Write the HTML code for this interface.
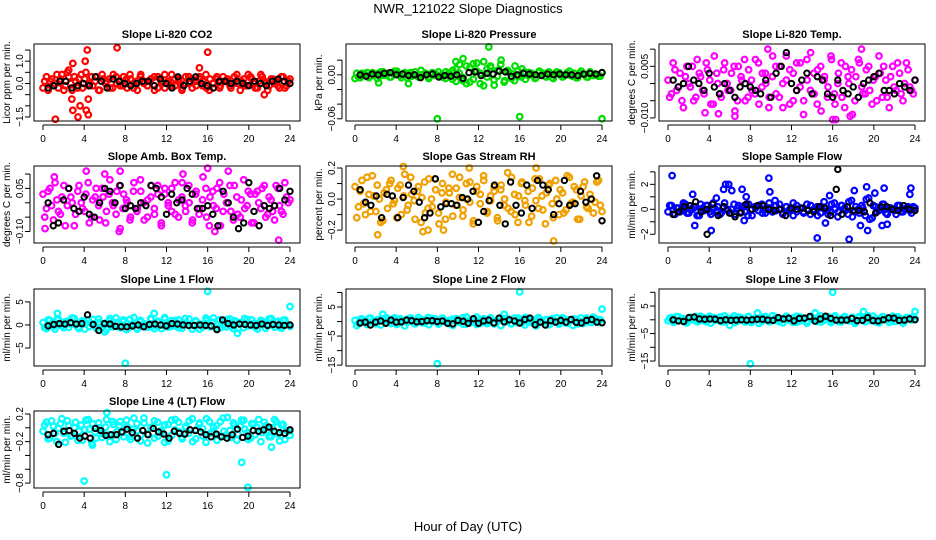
<!DOCTYPE html>
<html><head><meta charset="utf-8"><style>
html,body{margin:0;padding:0;background:#fff;}
svg{display:block;font-family:"Liberation Sans",sans-serif;}
</style></head><body>
<svg id="chart" width="936" height="540" viewBox="0 0 936 540" xmlns="http://www.w3.org/2000/svg">
<text x="468" y="13" text-anchor="middle" font-size="13">NWR_121022  Slope Diagnostics</text>
<text x="468" y="531" text-anchor="middle" font-size="13">Hour of Day (UTC)</text>
</svg>
<script>
// ---- data (values in per-panel units; see unit in panel config) ----
const co2Vals=[-2,3,1,-1,4,2,-3,5,0,3,-2,4,2,-1,3,1,-3,4,0,2,-2,3,1,-1,2,4,-2,1,3,0,-1,2,3,-2,1,4,0,-1,2,1,-2,3,0,2,-1,3,1,-2,2,0,3,-1,1,2,-2,3,0,1,-1,4,2,-2,1,3,0,-1,2,1,-2,3,-1,2];
const co2Vals2=[1,-3,2,0,-2,4,-1,3,-3,1,2,-2,5,0,-1,3,-3,2,1,-2,4,0,-1,3,-2,2,0,-3,4,1,-1,2,-3,3,0,-2,1,4,-1,2,-3,0,3,-2,1,2,-1,4,-3,0,2,-2,3,1,-1,0,4,-3,2,-1,3,0,-2,4,1,-3,2,0,-1,3,-2,1];
const co2Black=[-2,-1,1,1,-2,-1,0,-1,3,1,-2,2,1,0,-1,0,1,1,-1,2,0,-2,3,-1,1,3,0,-1,-2,1,1,0,1,0,-1,1,0,-1,1,2,1,0];
const co2OutX=[1.2,2.9,2.8,2.9,3.4,3.6,4.1,4.3,4.4,4.2,4.4,7.2,16.0,15.2,21.5,2.5];
const co2OutY=[-1.6,0.9,-0.7,-1.2,-1.5,-1.0,1.0,1.5,-1.4,-1.2,-0.7,1.6,1.4,0.7,-0.5,0.6];

const presVals=[-5,-3,2,0,-4,3,1,-2,4,0,-3,2,5,-1,1,-4,3,0,-2,6,1,-3,2,-1,4,0,-5,3,-6,8,2,-8,12,-10,15,5,-12,18,-3,10,-14,6,20,-8,4,-5,12,-2,8,-6,3,0,-4,5,2,-3,1,-5,4,0,-2,3,-1,2,-4,5,0,-3,2,1,-2,3];
const presVals2=[2,-4,0,3,-2,1,-5,4,-1,2,-3,5,0,-4,3,1,-2,4,-3,0,2,-5,3,1,-1,-3,4,0,6,-9,14,-4,-12,10,-6,16,2,-15,8,12,-7,-2,14,-10,6,2,-8,5,-3,4,-1,2,-5,3,0,-2,4,-4,1,3,-3,0,5,-2,-4,2,1,-3,4,-1,0,-2];
const presBlack=[0,-2,1,0,2,3,0,1,-1,0,-4,0,1,-3,-1,-2,0,-5,3,4,-1,2,1,5,4,-2,0,2,1,0,-1,1,0,1,0,0,-1,1,2,1,3];
const presOutX=[8,16,24,13,10.5,9.8,5.2,2.3];
const presOutY=[-0.06,-0.057,-0.06,0.038,0.022,0.018,-0.012,-0.011];

const tempVals=[1,-3,4,-1,-5,2,0,5,-4,3,-2,6,1,-6,3,-3,4,0,-2,5,-5,2,7,-4,1,-3,6,-1,3,-7,2,5,-4,0,8,-6,3,-2,6,-5,1,9,-3,4,-8,2,-1,7,-6,3,-4,5,0,-9,2,6,-3,4,-2,1,-5,3,5,-4,2,-1,6,-3,0,4,-2,1];
const tempVals2=[-4,6,-2,3,-7,5,-1,-5,7,2,-3,4,-6,8,0,-4,6,-2,3,-8,5,1,-5,4,-2,7,-6,3,0,-4,8,-3,5,-7,1,4,-5,6,-1,-9,7,-2,3,-6,5,1,-4,8,-3,0,6,-7,2,4,-5,7,-1,-3,5,-6,2,8,-4,1,-7,5,-2,3,-5,6,-1,-3];
const tempBlack=[1,-1,0,5,1,0,-2,3,-1,-3,0,-2,-4,-1,0,-1,-2,-3,1,-4,3,5,9,0,-2,1,3,-3,2,1,-3,-4,1,-2,-3,-1,-4,0,1,2,3,-2,-2,-3,0,-1,-2,1];
const tempOutX=[9.7,18.8,16.0,16.3,17.7,6.5,4.9,3.6];
const tempOutY=[0.01,0.01,-0.0105,-0.0105,-0.0095,-0.0095,-0.0088,-0.0085];

const ambVals=[3,-2,5,-6,1,-4,6,-1,2,-8,4,0,-3,7,-5,2,-1,5,-7,3,0,-4,6,-2,1,-6,4,-3,8,0,-5,2,-2,6,-7,3,-1,5,-4,1,7,-3,0,-6,4,-2,9,-5,2,-1,5,-8,3,0,-3,6,-4,1,-2,4,-7,3,0,5,-5,2,-3,6,-1,-4,2,1];
const ambVals2=[-5,4,-1,7,-3,2,-8,5,0,-4,6,-2,3,-7,1,5,-6,2,-3,8,-1,4,-9,3,0,-5,7,-2,4,-6,1,6,-4,3,-8,5,0,-3,7,-5,2,-1,6,-7,3,-4,1,5,-8,4,-2,7,-3,0,6,-6,2,-5,8,-1,3,-7,4,-2,6,-4,1,-6,5,-3,7,0];
const ambBlack=[0,-8,-7,1,5,-2,-3,2,-4,-5,0,5,4,0,6,-2,-1,-2,0,-1,6,5,2,-4,3,0,1,5,3,-2,-2,-1,-4,-8,4,0,-5,-9,-7,7,-3,-8,-1,-2,-1,5,1,4];
const ambOutX=[0.2,1.1,4.2,7.5,7.4,16.0,16.7,18.0,22.9,13.6,6.0];
const ambOutY=[-0.09,0.09,0.11,0.11,-0.1,0.12,-0.1,0.11,-0.13,0.1,0.1];

const rhVals=[8,-5,12,-10,3,15,-8,0,-14,6,10,-3,-12,9,2,-7,14,-1,5,-15,11,-6,0,13,-9,4,-13,7,16,-4,1,-11,10,-2,-16,8,3,12,-8,-1,5,-14,9,0,-6,14,-10,2,11,-4,-15,7,-1,13,-7,4,10,-12,0,6,-9,15,-3,8,-13,2,11,-6,0,-2,12,-8];
const rhVals2=[-12,5,-3,14,-8,2,9,-15,4,-6,12,-1,7,-10,16,-4,3,-13,8,1,-9,13,-5,6,-16,10,-2,4,-11,7,14,-7,0,11,-14,5,-3,15,-9,2,8,-12,6,-4,17,-8,3,-15,10,-1,5,-11,13,-6,2,-16,9,-3,12,-10,4,-7,14,-2,6,-13,8,-5,3,-9,11,-4];
const rhBlack=[6,-2,-4,2,-12,3,2,-12,1,9,5,-2,-12,-9,13,-5,-3,-3,-4,1,0,5,-15,-8,-1,9,-4,-16,11,-4,-9,9,-6,12,9,6,-10,-3,12,-4,-3,5,-2,0,15,-14];
const rhOutX=[2.2,4.7,11.1,17.6,19.3,6.6,7.1,8.6];
const rhOutY=[-0.23,0.21,0.2,0.2,-0.27,-0.21,-0.2,-0.2];

const sfVals=[-2,3,-4,1,-1,4,-3,0,2,-5,1,3,-2,5,-1,-4,2,0,-3,4,1,-2,3,-5,0,2,-1,4,-3,1,-2,3,0,-4,2,-1,5,-2,1,-3,0,3,-1,-5,2,1,-4,4,0,-2,3,-1,6,-6,2,-3,1,8,-8,3,-2,0,4,-4,1,-1,3,-2,0,2,-3,1];
const sfVals2=[3,-4,1,-2,5,-3,0,2,-5,4,-1,3,-4,1,2,-3,5,-1,0,-4,3,2,-2,4,-5,1,3,-3,0,5,-2,-1,4,-3,2,0,-5,3,1,-2,4,-4,0,2,-3,6,-1,-2,5,-6,3,1,-4,7,-2,0,3,-5,9,-7,2,-1,4,-3,1,0,-4,3,-2,1,-1,2];
const sfBlack=[-4,-2,2,3,6,-2,0,4,-5,2,-3,-6,-3,4,0,3,3,0,-1,0,-5,1,0,1,-1,-2,2,1,-5,16,-4,2,-1,-1,-2,5,-3,2,2,0,-1,3,0,-1];
const sfOutX=[0.4,2.6,2.4,4.2,4.7,5.4,5.6,5.9,6.2,7.2,7.6,7.4,9.8,9.9,10.4,14.5,15.3,15.7,17.6,18.1,18.7,19.4,19.3,20.1,21.0,21.3,23.5,23.6,20.8];
const sfOutY=[2.7,-1.3,1.2,-1.7,0.9,1.6,2.0,2.0,1.5,1.6,1.0,-0.9,2.5,1.4,0.7,-2.3,-1.1,1.1,-2.4,1.5,-1.3,-1.7,1.8,1.3,1.7,-1.2,1.2,1.7,-1.3];
const sfBlackOutX=[16.5,3.8];
const sfBlackOutY=[3.2,-2.0];

const l1Vals=[5,-8,10,-3,12,0,-6,8,2,14,-5,6,-9,11,3,-2,13,-7,4,9,-4,15,-1,7,-10,12,1,-6,10,3,-3,14,-8,6,0,16,-5,9,-2,11,-7,4,13,-1,8,-9,2,10,-4,15,0,-6,7,12,-3,9,-8,5,14,-2,11,-5,3,8,-7,13,0,6,-4,10,1,-3];
const l1Vals2=[-6,11,2,-9,13,-2,7,-5,15,0,-8,9,4,-3,12,-7,6,1,-10,14,-1,5,-6,11,3,-4,16,-9,7,0,-5,12,-2,8,-8,13,1,-3,10,-6,4,14,-1,-9,9,2,-5,15,-3,6,-7,11,0,-4,13,-8,7,2,-6,12,-1,4,-9,10,3,-2,14,-5,8,-7,11,0];
const l1Black=[-2,1,3,2,5,2,3,22,1,-12,3,2,-3,-4,-4,-2,0,-4,1,2,0,-2,3,2,0,-1,-1,0,-1,-2,-10,11,3,0,2,1,0,-1,2,-1,1,0,-1,0];
const l1OutX=[16,24,8,1.4,10.8,18.9,6.0];
const l1OutY=[7.3,4,-8.3,2.5,2.5,-1.8,-1.5];

const l2Vals=[4,-6,9,-2,11,1,-8,6,3,13,-4,8,-10,10,2,-3,12,-6,5,7,-5,14,0,9,-9,11,2,-7,8,4,-2,13,-9,5,1,15,-6,10,-1,12,-8,3,11,-2,9,-7,1,12,-5,14,-1,-4,8,10,-2,7,-9,6,13,-3,10,-6,4,9,-8,12,1,5,-3,11,2,-4];
const l2Vals2=[-14,8,2,-10,12,-3,6,-12,10,0,-7,13,-1,5,-15,9,3,-8,14,-4,7,-11,11,1,-6,12,-2,4,-13,10,2,-9,15,-5,6,-10,8,0,-7,13,-3,5,-14,11,1,-8,12,-4,7,-12,9,3,-6,14,-1,4,-11,10,2,-9,13,-5,6,-13,8,0,-7,12,-3,15,-2,6];
const l2Black=[-5,-2,-12,-2,2,-6,5,-2,-1,5,3,-1,0,3,3,0,2,-6,-8,4,1,-6,10,-6,2,5,-5,12,-1,6,2,-5,7,12,-11,-2,-12,3,-2,4,-2,7,-3,-5,4,7,-2,-4];
const l2OutX=[16,24,8,2.7,17.6,14.5];
const l2OutY=[10.2,4.3,-14.5,2.5,-1.5,2.5];

const l3Vals=[-3,8,-6,11,2,-9,7,0,12,-4,9,-7,13,1,-2,10,-8,6,3,14,-5,8,-1,11,-10,5,2,-6,12,0,-3,9,-7,4,13,-2,7,-9,10,1,-5,12,-3,8,-8,3,11,-1,14,-6,5,2,-4,9,-7,12,0,6,-3,13,-9,4,10,-2,7,-6,11,1,-5,8,-1,3];
const l3Vals2=[6,-9,12,-2,4,-11,9,1,-7,13,-4,5,-12,8,2,-6,14,-3,7,-10,10,0,-8,12,-5,6,-13,9,3,-7,15,-2,4,-11,11,1,-9,13,-4,7,-12,8,2,-6,14,-1,5,-10,10,-3,-8,12,0,6,-13,9,3,-7,14,-2,4,-11,11,1,-9,13,-5,7,-12,8,3,10];
const l3Black=[0,-4,-6,8,10,3,2,3,2,-3,0,-2,-1,0,-1,0,2,2,-1,-2,8,3,6,-4,5,6,12,-5,3,13,5,-1,-1,-1,5,-3,-2,8,-3,-4,0,7,6,-2,-1,3,0];
const l3OutX=[16,24,8,6.0,8.7,14.3,19.0];
const l3OutY=[10,3,-16,-2,2.5,2.5,3];

const l4Vals=[-5,8,-15,2,-20,6,-8,10,-12,0,-18,4,-3,12,-22,-6,7,-14,1,-10,9,-17,3,-7,11,-13,-2,6,-19,14,-9,0,-15,8,-4,-21,5,-11,12,-6,-16,2,10,-20,-3,7,-12,13,-8,1,-18,9,-5,15,-14,4,-9,11,-2,-17,6,-10,12,-7,3,-13,0,9,-19,5,-4,-11];
const l4Vals2=[4,-16,10,-8,-1,13,-21,3,-11,8,-5,-18,11,-2,6,-15,0,-9,12,-20,5,-6,9,-13,2,-17,14,-4,-10,7,-22,1,10,-12,-7,4,-19,11,-3,8,-14,0,-8,13,-16,5,-1,-21,9,-6,3,-12,14,-10,-4,7,-18,2,11,-7,-15,6,0,-20,8,-3,-13,12,-9,4,-17,-5];
const l4Black=[-10,-8,-24,-5,-4,-8,-15,-12,-15,-1,-4,-11,-10,-10,-6,-2,-7,-15,-4,-10,-1,-6,-9,-15,-5,-8,-9,-3,-4,-6,-10,-13,-9,-13,-15,-10,-2,-14,-12,-4,-5,-3,1,-5,-7,-8,-3];
const l4OutX=[4.0,12.0,19.9,19.3,22.2,6.2,4.8];
const l4OutY=[-0.77,-0.68,-0.86,-0.5,-0.28,0.22,-0.25];

// ---- panel configuration (layout/style) ----
const colLeft=[34,346,659], rowTop=[44,166,289,411], boxW=266, boxH=77;
const panels=[
 {key:'co2',title:'Slope Li-820 CO2',ylab:'Licor ppm per min.',col:0,row:0,ytop:1.77,ybot:-1.68,ticks:[1.5,1,0.5,0,-0.5,-1,-1.5],labels:[[1,'1.0'],[0,'0.0'],[-1.5,'-1.5']],color:'#ff0000',unit:0.1,vals:co2Vals,vals2:co2Vals2,black:co2Black,ox:co2OutX,oy:co2OutY},
 {key:'pres',title:'Slope Li-820 Pressure',ylab:'kPa per min.',col:1,row:0,ytop:0.042,ybot:-0.063,ticks:[0.02,0,-0.02,-0.04,-0.06],labels:[[0,'0.00'],[-0.06,'-0.06']],color:'#00dd00',unit:0.001,vals:presVals,vals2:presVals2,black:presBlack,ox:presOutX,oy:presOutY},
 {key:'temp',title:'Slope Li-820 Temp.',ylab:'degrees C per min.',col:2,row:0,ytop:0.0115,ybot:-0.0109,ticks:[0.01,0.005,0,-0.005,-0.01],labels:[[0.005,'0.005'],[-0.01,'-0.010']],color:'#ff00ff',unit:0.001,vals:tempVals,vals2:tempVals2,black:tempBlack,ox:tempOutX,oy:tempOutY},
 {key:'amb',title:'Slope Amb. Box Temp.',ylab:'degrees C per min.',col:0,row:1,ytop:0.128,ybot:-0.14,ticks:[0.1,0.05,0,-0.05,-0.1],labels:[[0.05,'0.05'],[-0.1,'-0.10']],color:'#ff00ff',unit:0.01,vals:ambVals,vals2:ambVals2,black:ambBlack,ox:ambOutX,oy:ambOutY},
 {key:'rh',title:'Slope Gas Stream RH',ylab:'percent per min.',col:1,row:1,ytop:0.213,ybot:-0.283,ticks:[0.2,0.1,0,-0.1,-0.2],labels:[[0.2,'0.2'],[0,'0.0'],[-0.2,'-0.2']],color:'#f0a000',unit:0.01,vals:rhVals,vals2:rhVals2,black:rhBlack,ox:rhOutX,oy:rhOutY},
 {key:'sf',title:'Slope Sample Flow',ylab:'ml/min per min.',col:2,row:1,ytop:3.47,ybot:-2.7,ticks:[3,2,1,0,-1,-2],labels:[[2,'2'],[0,'0'],[-2,'-2']],color:'#0000ff',unit:0.1,vals:sfVals,vals2:sfVals2,black:sfBlack,ox:sfOutX,oy:sfOutY,bx:sfBlackOutX,by:sfBlackOutY},
 {key:'l1',title:'Slope Line 1 Flow',ylab:'ml/min per min.',col:0,row:2,ytop:7.8,ybot:-8.9,ticks:[5,0,-5],labels:[[5,'5'],[0,'0'],[-5,'-5']],color:'#00ffff',unit:0.1,vals:l1Vals,vals2:l1Vals2,black:l1Black,ox:l1OutX,oy:l1OutY},
 {key:'l2',title:'Slope Line 2 Flow',ylab:'ml/min per min.',col:1,row:2,ytop:11.2,ybot:-15.3,ticks:[10,5,0,-5,-10,-15],labels:[[5,'5'],[-5,'-5'],[-15,'-15']],color:'#00ffff',unit:0.1,vals:l2Vals,vals2:l2Vals2,black:l2Black,ox:l2OutX,oy:l2OutY},
 {key:'l3',title:'Slope Line 3 Flow',ylab:'ml/min per min.',col:2,row:2,ytop:11.2,ybot:-16.8,ticks:[10,5,0,-5,-10,-15],labels:[[5,'5'],[-5,'-5'],[-15,'-15']],color:'#00ffff',unit:0.1,vals:l3Vals,vals2:l3Vals2,black:l3Black,ox:l3OutX,oy:l3OutY},
 {key:'l4',title:'Slope Line 4 (LT) Flow',ylab:'ml/min per min.',col:0,row:3,ytop:0.243,ybot:-0.871,ticks:[0.2,0,-0.2,-0.4,-0.6,-0.8],labels:[[0.2,'0.2'],[-0.2,'-0.2'],[-0.8,'-0.8']],color:'#00ffff',unit:0.01,vals:l4Vals,vals2:l4Vals2,black:l4Black,ox:l4OutX,oy:l4OutY}
];
const xTicks=[0,4,8,12,16,20,24];
const NS='http://www.w3.org/2000/svg';
const svg=document.getElementById('chart');
function mk(tag,attrs,parent){const e=document.createElementNS(NS,tag);for(const k in attrs)e.setAttribute(k,attrs[k]);parent.appendChild(e);return e;}
panels.forEach(p=>{
 const L=colLeft[p.col],T=rowTop[p.row];
 const g=mk('g',{},svg);
 
 
 const xs=h=>L+9+h*(247/24);
 const ys=v=>T+(p.ytop-v)/(p.ytop-p.ybot)*boxH;
 const t=mk('text',{x:L+boxW/2,y:T-6,'text-anchor':'middle','font-size':'11','font-weight':'bold'},g);
 t.textContent=p.title;
 
 
 const yt=mk('text',{x:0,y:0,'text-anchor':'middle','font-size':'10',transform:`translate(${L-24},${T+boxH/2}) rotate(-90)`},g);
 yt.textContent=p.ylab;
 
 
 const cg=mk('g',{fill:'none',stroke:p.color,'stroke-width':'2.2'},g);
 
 
 const n=p.vals.length;
 p.vals.forEach((v,i)=>{
  const c=mk('circle',{cx:xs(i*24/(n-1)),cy:ys(v*p.unit),r:2.8},cg);
  
  
 });
 const n2=p.vals2.length;
 p.vals2.forEach((v,i)=>{
  const c=mk('circle',{cx:xs((i+0.5)*24/n2),cy:ys(v*p.unit),r:2.8},cg);
  
  
 });
 p.ox.forEach((h,i)=>{
  const c=mk('circle',{cx:xs(h),cy:ys(p.oy[i]),r:2.8},cg);
  
  
 });
 const bg=mk('g',{fill:'none',stroke:'#000','stroke-width':'2'},g);
 
 
 const m=p.black.length;
 p.black.forEach((v,i)=>{
  const c=mk('circle',{cx:xs(0.5+i*23.5/(m-1)),cy:ys(v*p.unit),r:2.7},bg);
  
  
 });
 if(p.bx){p.bx.forEach((h,i)=>{
  const c=mk('circle',{cx:xs(h),cy:ys(p.by[i]),r:2.7},bg);
  
  
 });}
 const r=mk('rect',{x:L,y:T,width:boxW,height:boxH,fill:'none',stroke:'#000','stroke-width':'1'},g);
 
 
 const ax=mk('g',{stroke:'#000','stroke-width':'1'},g);
 
 
 mk('line',{x1:xs(0),x2:xs(24),y1:T+boxH+4,y2:T+boxH+4},ax);
 xTicks.forEach(h=>{
  mk('line',{x1:xs(h),x2:xs(h),y1:T+boxH+4,y2:T+boxH+9},ax);
  const lt=mk('text',{x:xs(h),y:T+boxH+21,'text-anchor':'middle','font-size':'10',stroke:'none'},g);
  lt.textContent=h;
  
  
 });
 const ay=mk('g',{stroke:'#000','stroke-width':'1'},g);
 
 
 const tv=p.ticks;
 mk('line',{x1:L-4,x2:L-4,y1:ys(Math.max(...tv)),y2:ys(Math.min(...tv))},ay);
 tv.forEach(v=>mk('line',{x1:L-9,x2:L-4,y1:ys(v),y2:ys(v)},ay));
 p.labels.forEach(([v,s])=>{
  const lt=mk('text',{x:0,y:0,'text-anchor':'middle','font-size':'10',transform:`translate(${L-11},${ys(v)}) rotate(-90)`},g);
  lt.textContent=s.replace('-','\u2212');
  
  
 });
});
</script>
</body></html>
